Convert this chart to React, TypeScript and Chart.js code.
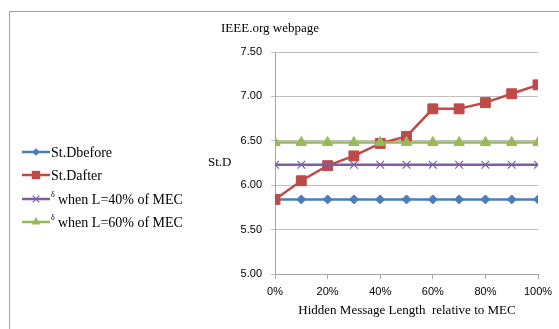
import React, { useEffect, useRef } from "react";
import { Chart, registerables } from "chart.js";

Chart.register(...registerables);

const xPercents = [0, 10, 20, 30, 40, 50, 60, 70, 80, 90, 100];
const stdBefore = [5.84, 5.84, 5.84, 5.84, 5.84, 5.84, 5.84, 5.84, 5.84, 5.84, 5.84];
const stdAfter = [5.84, 6.05, 6.22, 6.33, 6.47, 6.55, 6.86, 6.86, 6.93, 7.03, 7.13];
const delta40 = [6.23, 6.23, 6.23, 6.23, 6.23, 6.23, 6.23, 6.23, 6.23, 6.23, 6.23];
const delta60 = [6.48, 6.48, 6.48, 6.48, 6.48, 6.48, 6.48, 6.48, 6.48, 6.48, 6.48];
const yTicks = [5.0, 5.5, 6.0, 6.5, 7.0, 7.5];

const seriesNames = ["St.Dbefore", "St.Dafter", "when L=40% of MEC", "when L=60% of MEC"];
const seriesSup = ["", "", "\u03B4", "\u03B4"];
const chartTitle = "IEEE.org webpage";
const xTitle = "Hidden Message Length  relative to MEC";
const yTitle = "St.D";

const COLORS = ["#4a7ebb", "#be4b48", "#7d5fa0", "#98b954"];
const STYLES = ["rectRot", "rect", "crossRot", "triangle"];
const RADII = [4.5, 7, 5.5, 6];

const SERIF = "'Liberation Serif', 'Times New Roman', serif";
const SANS = "'Liberation Sans', Arial, sans-serif";

function drawMarker(ctx: CanvasRenderingContext2D, style: string, x: number, y: number, r: number, color: string) {
  ctx.save();
  ctx.fillStyle = color;
  ctx.strokeStyle = color;
  ctx.lineWidth = 1.2;
  ctx.beginPath();
  if (style === "rectRot") {
    ctx.moveTo(x, y - r);
    ctx.lineTo(x + r, y);
    ctx.lineTo(x, y + r);
    ctx.lineTo(x - r, y);
    ctx.closePath();
    ctx.fill();
  } else if (style === "rect") {
    const s = r * Math.SQRT1_2;
    ctx.rect(x - s, y - s, 2 * s, 2 * s);
    ctx.fill();
  } else if (style === "crossRot") {
    const s = r * Math.SQRT1_2;
    ctx.moveTo(x - s, y - s);
    ctx.lineTo(x + s, y + s);
    ctx.moveTo(x - s, y + s);
    ctx.lineTo(x + s, y - s);
    ctx.stroke();
  } else if (style === "triangle") {
    const h = r * Math.cos(Math.PI / 6);
    ctx.moveTo(x, y - r);
    ctx.lineTo(x + h, y + r / 2);
    ctx.lineTo(x - h, y + r / 2);
    ctx.closePath();
    ctx.fill();
  }
  ctx.restore();
}

const decorPlugin = {
  id: "decor",
  beforeDraw(chart: any) {
    const ctx = chart.ctx as CanvasRenderingContext2D;
    ctx.save();
    ctx.fillStyle = "#ffffff";
    ctx.fillRect(0, 0, chart.width, chart.height);
    ctx.strokeStyle = "#a0a0a0";
    ctx.lineWidth = 1;
    ctx.strokeRect(9.5, 11.5, chart.width + 10, chart.height + 10);
    ctx.restore();
  },
  afterDraw(chart: any) {
    const ctx = chart.ctx as CanvasRenderingContext2D;
    ctx.save();
    ctx.fillStyle = "#000";
    ctx.textBaseline = "middle";
    ctx.textAlign = "center";
    ctx.font = `13px ${SERIF}`;
    ctx.fillText(chartTitle, 270, 29);
    ctx.fillText(xTitle, 407, 311);
    ctx.textAlign = "left";
    ctx.fillText(yTitle, 208, 163);

    const legY = [152, 175, 199, 222];
    for (let i = 0; i < seriesNames.length; i++) {
      const y = legY[i];
      ctx.strokeStyle = COLORS[i];
      ctx.lineWidth = 2.5;
      ctx.beginPath();
      ctx.moveTo(22, y);
      ctx.lineTo(50, y);
      ctx.stroke();
      drawMarker(ctx, STYLES[i], 36, y, RADII[i] * 0.85, COLORS[i]);
      let tx = 51;
      ctx.fillStyle = "#000";
      if (seriesSup[i]) {
        ctx.font = `8px ${SERIF}`;
        ctx.fillText(seriesSup[i], tx, y - 4);
        tx += 7;
      }
      ctx.font = `14px ${SERIF}`;
      ctx.fillText(seriesNames[i], tx, y + 1);
    }
    ctx.restore();
  },
};

export default function App() {
  const ref = useRef<HTMLCanvasElement | null>(null);
  useEffect(() => {
    if (!ref.current) return;
    const all = [stdBefore, stdAfter, delta40, delta60];
    const chart = new Chart(ref.current, {
      type: "line",
      data: {
        datasets: all.map((vals, i) => ({
          label: seriesNames[i],
          data: vals.map((v, j) => ({ x: xPercents[j], y: v })),
          borderColor: COLORS[i],
          backgroundColor: COLORS[i],
          borderWidth: 2.5,
          pointStyle: STYLES[i] as any,
          pointRadius: RADII[i],
          pointBorderWidth: i === 2 ? 1.2 : 1,
          pointBorderColor: COLORS[i],
          pointBackgroundColor: COLORS[i],
          tension: 0,
          order: 3 - i,
        })),
      },
      options: {
        animation: false,
        responsive: false,
        devicePixelRatio: 1,
        layout: { padding: { left: 0, right: 21, top: 52, bottom: 0 } },
        plugins: { legend: { display: false }, title: { display: false }, tooltip: { enabled: false } },
        scales: {
          x: {
            type: "linear",
            min: 0,
            max: 100,
            ticks: {
              stepSize: 20,
              callback: (v: any) => `${v}%`,
              font: { family: SANS, size: 11 },
              color: "#000",
              padding: 6,
              maxRotation: 0,
            },
            grid: { drawOnChartArea: false, drawTicks: true, tickLength: 5, color: "#a6a6a6" },
            border: { display: true, color: "#a6a6a6" },
            afterFit: (s: any) => {
              s.height = 55;
            },
          },
          y: {
            min: 5,
            max: 7.5,
            afterBuildTicks: (s: any) => {
              s.ticks = yTicks.map((v) => ({ value: v }));
            },
            ticks: {
              callback: (v: any) => Number(v).toFixed(2),
              font: { family: SANS, size: 11 },
              color: "#000",
              padding: 9,
            },
            grid: { color: "#bfbfbf", tickLength: 4, drawTicks: true },
            border: { display: true, color: "#a6a6a6" },
            afterFit: (s: any) => {
              s.width = 275;
            },
          },
        },
      },
      plugins: [decorPlugin],
    });
    return () => chart.destroy();
  }, []);
  return (
    <div style={{ position: "fixed", left: 0, top: 0, width: 559, height: 329 }}>
      <canvas ref={ref} width={559} height={329} style={{ width: 559, height: 329, display: "block" }} />
    </div>
  );
}
